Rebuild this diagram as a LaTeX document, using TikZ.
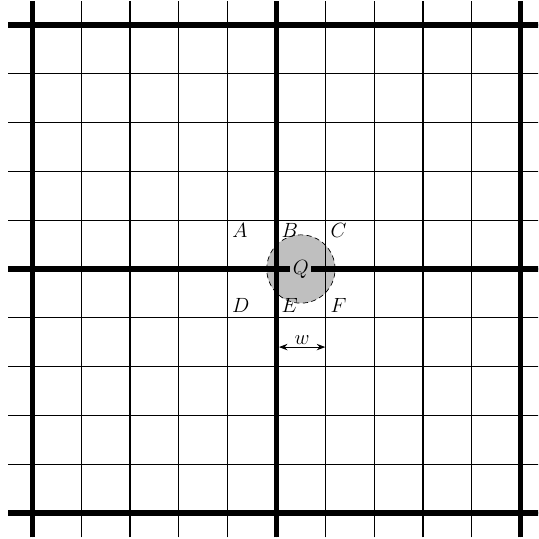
\documentclass[tikz,border=0pt]{standalone}
\usetikzlibrary{arrows.meta}
\begin{document}
\begin{tikzpicture}[
  thinline/.style={line width=0.7pt},
  thickline/.style={line width=3pt},
  lbl/.style={font=\large, inner sep=1pt},
  zone/.style={fill=gray!50, draw=black, densely dashed, line width=0.4pt}
]
\clip (-5.666,-5.533) rectangle (5.359,5.512);
\fill[white] (-5.666,-5.533) rectangle (5.359,5.512);
% shaded zone
\node[zone, circle, minimum size=1.4cm, inner sep=0pt] (zonec) at (0.5,0) {};
% thin grid
\foreach \i in {-5,...,5} {
  \draw[thinline] (\i,-5.5) -- (\i,5.5);
  \draw[thinline] (-5.5,\i) -- (5.5,\i);
}
% thick grid
\foreach \i in {-5,0,5} {
  \draw[thickline] (\i,-5.5) -- (\i,5.5);
  \draw[thickline] (-5.5,\i) -- (5.5,\i);
}
\node[lbl, fill=gray!50, inner sep=1.5pt] (Q) at (0.5,0) {$Q$};
\node[lbl] (A) at (-0.75,0.78) {$A$};
\node[lbl] (B) at (0.27,0.78) {$B$};
\node[lbl] (C) at (1.27,0.78) {$C$};
\node[lbl] (D) at (-0.73,-0.74) {$D$};
\node[lbl] (E) at (0.27,-0.74) {$E$};
\node[lbl] (F) at (1.27,-0.74) {$F$};
\coordinate (w1) at (0.05,-1.6);
\coordinate (w2) at (1,-1.6);
\draw[line width=0.6pt, {Stealth[length=5pt]}-{Stealth[length=5pt]}] (w1) -- node[lbl, above] (w) {$w$} (w2);
\end{tikzpicture}
\end{document}
